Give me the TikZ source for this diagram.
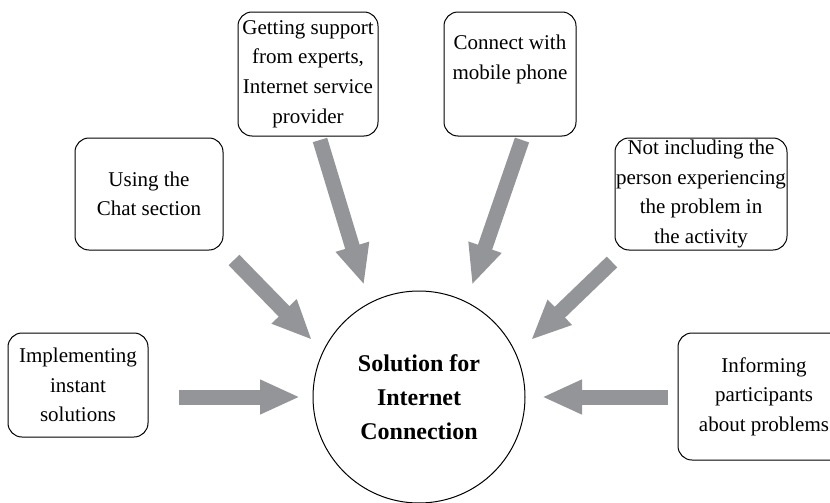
\documentclass[tikz,border=0pt]{standalone}
\usepackage{fontspec}
\setmainfont{Liberation Serif}
\usetikzlibrary{arrows.meta}
\definecolor{arrowgray}{RGB}{147,149,152}
\tikzset{
  infobox/.style = {draw, rounded corners=7pt, align=center, inner sep=0pt,
                    line width=0.5pt, font=\fontsize{10.5}{14.8}\selectfont},
  fatarrow/.style = {draw=arrowgray, line width=7.5pt,
                     -{Triangle[width=16pt,length=20pt,fill=arrowgray]}}
}

\begin{document}
\begin{tikzpicture}[x=0.5pt,y=-0.5pt]
  \useasboundingbox (0,0) rectangle (830,503);
  \clip (0,0) rectangle (830,503);
  % boxes round the hub
  \node[infobox, minimum width=70pt, minimum height=52pt] (implement) at (78,385)
    {Implementing\\instant\\solutions};
  \node[infobox, minimum width=74pt, minimum height=56pt] (chat) at (149,194)
    {Using the\\Chat section};
  \node[infobox, minimum width=70pt, minimum height=62pt] (experts) at (308,74)
    {Getting support\\from experts,\\Internet service\\provider};
  \node[infobox, minimum width=66pt, minimum height=62pt] (mobile) at (510,74)
    {Connect with\\mobile phone\\[2pt]};
  \node[infobox, minimum width=86pt, minimum height=56pt] (exclude) at (701,194)
    {Not including the\\person experiencing\\the problem in\\the activity};
  \node[infobox, minimum width=86pt, minimum height=63.5pt] (inform) at (764,396.5)
    {Informing\\participants\\about problems};
  % hub
  \node[draw, circle, minimum size=106pt, line width=0.5pt, align=center,
        font=\fontsize{12}{17}\selectfont\bfseries] (hub) at (419,397)
    {Solution for\\Internet\\Connection};
  % arrow ends
  \coordinate (t1) at (179,397);   \coordinate (h1) at (300,397);
  \coordinate (t2) at (234,260);   \coordinate (h2) at (312,340);
  \coordinate (t3) at (320,140);   \coordinate (h3) at (364,285);
  \coordinate (t4) at (522,140);   \coordinate (h4) at (472,285);
  \coordinate (t5) at (612,262);   \coordinate (h5) at (531,340);
  \coordinate (t6) at (668,397);   \coordinate (h6) at (542,397);
  \foreach \i in {1,...,6}{
      \draw[fatarrow] (t\i) -- (h\i);
    }
\end{tikzpicture}
\end{document}
